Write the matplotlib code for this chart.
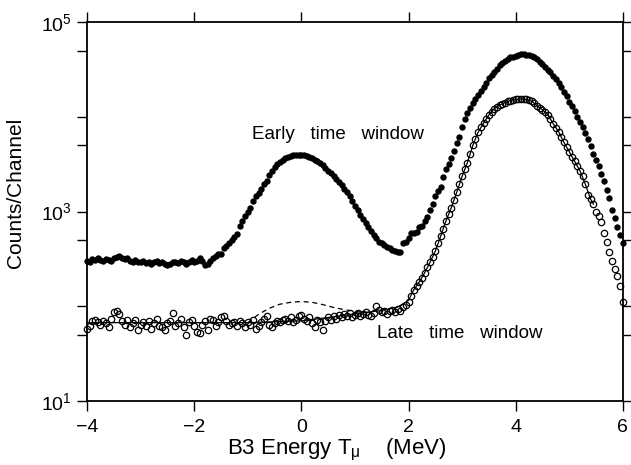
import numpy as np
import matplotlib
matplotlib.use("Agg")
import matplotlib.pyplot as plt
from matplotlib.ticker import LogLocator, NullFormatter

plt.rcParams['font.family'] = ['Liberation Sans', 'DejaVu Sans']
plt.rcParams['mathtext.default'] = 'regular'

#### data (channel step 0.05 MeV from -4)
step = 0.05

early_counts = [
    300, 290, 315, 305, 320, 310, 300, 315, 305, 300,
    320, 330, 340, 325, 315, 320, 300, 290, 310, 295,
    290, 300, 285, 295, 280, 290, 300, 285, 290, 280,
    275, 280, 290, 295, 285, 300, 290, 280, 295, 305,
    290, 300, 320, 300, 270, 280, 300, 320, 340, 355,
    360, 410, 430, 470, 500, 540, 580, 700, 800, 890,
    980, 1100, 1290, 1450, 1590, 1750, 1950, 2100, 2450, 2700,
    2950, 3150, 3350, 3550, 3700, 3800, 3900, 3950, 4000, 4000,
    4000, 3950, 3900, 3800, 3700, 3550, 3400, 3300, 3100, 2900,
    2700, 2550, 2350, 2200, 2050, 1900, 1750, 1600, 1450, 1300,
    1150, 1050, 930, 830, 760, 690, 630, 570, 520, 480,
    460, 440, 425, 410, 395, 385, 375, 370, 460, 480,
    520, 600, 590, 610, 680, 700, 800, 880, 1050, 1200,
    1450, 1650, 1800, 2300, 2800, 3200, 3700, 4400, 5300, 6200,
    7900, 9500, 11000, 12500, 14000, 15500, 17000, 18600, 20500, 23000,
    25500, 28000, 30000, 32000, 35000, 37000, 39000, 41000, 42500, 43500,
    44500, 45500, 46000, 46000, 45500, 45000, 44000, 42500, 40500, 38500,
    36000, 34000, 31500, 29500, 27000, 25000, 23000, 20500, 18500, 16500,
    14500, 13000, 11500, 10000, 8800, 7800, 6800, 5900, 4900, 4100,
    3500, 3000, 2500, 2100, 1700, 1400, 1050, 850, 680, 560,
    470,
]

late_counts = [
    58, 62, 70, 72, 68, 64, 70, 66, 60, 74,
    86, 88, 82, 70, 64, 72, 60, 66, 72, 56,
    64, 68, 62, 70, 58, 66, 74, 62, 60, 56,
    66, 70, 84, 62, 66, 74, 60, 50, 68, 72,
    62, 54, 52, 64, 70, 56, 74, 72, 62, 68,
    76, 78, 70, 64, 66, 68, 62, 70, 66, 60,
    68, 64, 72, 58, 62, 68, 74, 78, 64, 60,
    66, 70, 68, 72, 74, 70, 76, 68, 72, 78,
    80, 74, 70, 76, 66, 60, 72, 68, 56, 70,
    76, 72, 78, 74, 80, 76, 82, 78, 84, 76,
    80, 84, 78, 82, 86, 80, 78, 84, 100, 92,
    86, 88, 82, 90, 92, 86, 94, 90, 98, 104,
    112, 128, 150, 165, 180, 200, 225, 260, 295, 335,
    380, 460, 550, 650, 800, 950, 1100, 1330, 1600, 1950,
    2350, 2800, 3300, 4100, 5000, 5900, 6900, 7800, 8600, 9600,
    10500, 11400, 12200, 12800, 13300, 13800, 14200, 14600, 14900, 15100,
    15300, 15400, 15500, 15500, 15300, 15000, 14700, 13900, 13100, 12500,
    11900, 11300, 10600, 9500, 8500, 7700, 7000, 6200, 5400, 4800,
    4300, 3800, 3400, 3000, 2700, 2350, 1950, 1500, 1350, 1200,
    1000, 900, 770, 600, 480, 370, 300, 250, 210, 165,
    110,
]

#### fitted curves for the late window
fit_x = [-4.0, -1.0, 0.0, 0.5, 1.0, 1.2, 1.5, 1.8,
         2.0, 2.1, 2.2, 2.3, 2.4, 2.5, 2.6, 2.7, 2.8, 2.9,
         3.0, 3.1, 3.2, 3.3, 3.4, 3.5, 3.6, 3.7, 3.8, 3.9,
         4.0, 4.1, 4.2, 4.3, 4.4, 4.5, 4.6, 4.7, 4.8, 4.9,
         5.0, 5.1, 5.2, 5.3, 5.4, 5.45]
fit_y = [67, 67, 70, 76, 83, 86, 90, 98,
         115, 150, 180, 225, 290, 380, 550, 800, 1100, 1600,
         2350, 3300, 5000, 6900, 8600, 10500, 12200, 13300, 14200, 14900,
         15300, 15500, 15300, 14700, 13100, 11900, 10600, 8500, 7000, 5400,
         4300, 3400, 2700, 1950, 1350, 1200]

dash_x = [-1.0, -0.8, -0.6, -0.4, -0.2, 0.0, 0.2, 0.4, 0.6, 0.8, 1.0, 1.2]
dash_y = [67, 82, 95, 105, 110, 112, 110, 104, 97, 92, 88, 86]

x_early = -4 + step * np.arange(len(early_counts))
x_late = -4 + step * np.arange(len(late_counts))

fig = plt.figure(figsize=(6.31, 4.65), dpi=100)
ax = fig.add_axes([0.138, 0.138, 0.849, 0.814])

ax.plot(fit_x, fit_y, '-', color='k', lw=0.9, zorder=4)
ax.plot(dash_x, dash_y, color='k', lw=0.9, dashes=(4, 3), zorder=4)
ax.plot(x_late, late_counts, 'o', ms=4.6, mfc='none', mec='k', mew=0.9,
        clip_on=False, zorder=3)
ax.plot(x_early, early_counts, 'o', ms=4.6, color='k', mew=0,
        clip_on=False, zorder=3)

ax.set_yscale('log')
ax.set_xlim(-4, 6)
ax.set_ylim(10, 1e5)
ax.set_xticks([-4, -2, 0, 2, 4, 6])
ax.set_xticklabels(['\u22124', '\u22122', '0', '2', '4', '6'])
ax.yaxis.set_minor_locator(LogLocator(base=10, subs=[5.0]))
ax.yaxis.set_minor_formatter(NullFormatter())
# only odd decades carry a label
ax.set_yticks([10, 100, 1000, 10000, 1e5])
ax.set_yticklabels(['$10^1$', '', '$10^3$', '', '$10^5$'])

ax.tick_params(which='both', direction='out', length=7, width=1.0,
               top=True, right=True, labelsize=14)
ax.tick_params(axis='x', pad=6)
ax.tick_params(axis='y', pad=4)
for sp in ax.spines.values():
    sp.set_linewidth(1.3)

ax.set_xlabel('B3 Energy $T_{\\mu}$    (MeV)', fontsize=16)
ax.xaxis.set_label_coords(0.465, -0.095)
ax.set_ylabel('Counts/Channel', fontsize=15,
              family=['Liberation Sans Narrow', 'Liberation Sans'])
ax.yaxis.set_label_coords(-0.115, 0.55)

ax.text(-0.92, 6500, 'Early   time   window', fontsize=13.5, va='center')
ax.text(1.42, 51, 'Late   time   window', fontsize=13.5, va='center')

fig.savefig('out.png', dpi=100)
